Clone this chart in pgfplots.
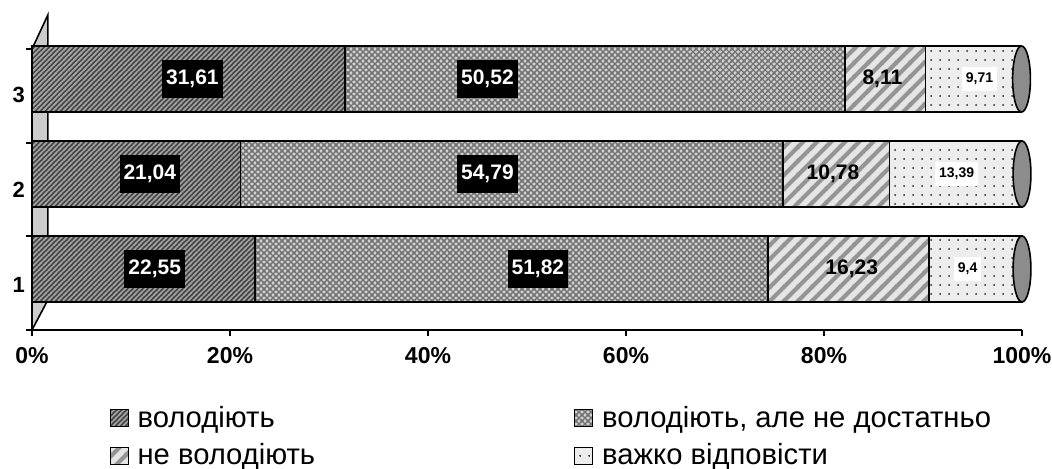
\documentclass[border=0pt]{standalone}
\usepackage{fontspec}
\setmainfont{Liberation Sans}
\usepackage{pgfplots}
\usepackage{pgfplotstable}
\pgfplotsset{compat=1.18}
\usetikzlibrary{patterns}

% fill patterns close to the Excel ones
\pgfdeclarepatternformonly{denselines}{\pgfqpoint{-1pt}{-1pt}}{\pgfqpoint{3.5pt}{3.5pt}}{\pgfqpoint{2.5pt}{2.5pt}}{
  \pgfsetlinewidth{0.7pt}
  \pgfpathmoveto{\pgfqpoint{-1pt}{-1pt}}
  \pgfpathlineto{\pgfqpoint{3.5pt}{3.5pt}}
  \pgfusepath{stroke}
}
\pgfdeclarepatternformonly{widelines}{\pgfqpoint{-1pt}{-1pt}}{\pgfqpoint{8pt}{8pt}}{\pgfqpoint{7pt}{7pt}}{
  \pgfsetlinewidth{2pt}
  \pgfpathmoveto{\pgfqpoint{-1pt}{-1pt}}
  \pgfpathlineto{\pgfqpoint{8pt}{8pt}}
  \pgfusepath{stroke}
}
\pgfdeclarepatternformonly{weave}{\pgfqpoint{-1pt}{-1pt}}{\pgfqpoint{4pt}{4pt}}{\pgfqpoint{3pt}{3pt}}{
  \pgfsetlinewidth{0.55pt}
  \pgfpathmoveto{\pgfqpoint{-1pt}{-1pt}}
  \pgfpathlineto{\pgfqpoint{4pt}{4pt}}
  \pgfpathmoveto{\pgfqpoint{-1pt}{4pt}}
  \pgfpathlineto{\pgfqpoint{4pt}{-1pt}}
  \pgfusepath{stroke}
}
\pgfdeclarepatternformonly{sparsedots}{\pgfqpoint{0pt}{0pt}}{\pgfqpoint{4.5pt}{4.5pt}}{\pgfqpoint{4.5pt}{4.5pt}}{
  \pgfpathcircle{\pgfqpoint{2.25pt}{2.25pt}}{0.55pt}
  \pgfusepath{fill}
}

% y = category, x = share (%), lab = printed label, cx = where the label sits
\pgfplotstableread{
y x lab cx
1 22.55 22,55 12.4
2 21.04 21,04 11.9
3 31.61 31,61 16.2
}\sone
\pgfplotstableread{
y x lab cx
1 51.82 51,82 51.1
2 54.79 54,79 46.0
3 50.52 50,52 46.0
}\stwo
\pgfplotstableread{
y x lab cx
1 16.23 16,23 82.8
2 10.78 10,78 80.9
3 8.11 8,11 85.9
}\sthree
\pgfplotstableread{
y x lab cx
1 9.4 9,4 94.5
2 13.39 13,39 93.4
3 9.71 9,71 95.7
}\sfour
% bar totals, for the cylinder end caps
\pgfplotstableread{
y x
1 100
2 100
3 99.95
}\stotal

\pgfplotsset{
  frame/.style={
    scale only axis,
    width=495pt, height=140.5pt,
    xmin=0, xmax=100, ymin=0.358, ymax=3.316,
    clip=false,
  },
}

\begin{document}
\begin{tikzpicture}
\useasboundingbox (-16pt,-69.5pt) rectangle (510pt,165pt);
% thin 3D side wall, behind everything
\begin{axis}[frame, hide axis]
  \draw[fill=black!20, line width=0.8pt]
    (axis cs:0,0.358) -- (axis cs:1.6,0.674) -- (axis cs:1.6,3.674) -- (axis cs:0,3.316);
\end{axis}

\begin{axis}[
    frame,
    xbar stacked, bar width=33pt,
    axis lines*=left,
    axis line style={-, line width=1pt},
    xtick={0,20,...,100},
    xticklabels={0\%,20\%,40\%,60\%,80\%,100\%},
    ytick={0.358,1.344,2.33,3.316},
    yticklabels={,,,},
    extra y ticks={1,2,3},
    extra y tick labels={1,2,3},
    extra y tick style={major tick length=0pt, yticklabel style={yshift=-8pt}},
    tick align=outside,
    major tick length=3pt,
    tick style={black, line width=1pt},
    xticklabel style={font=\fontsize{11.5}{13}\selectfont\bfseries, yshift=-2pt},
    yticklabel style={font=\fontsize{11}{13}\selectfont\bfseries},
    /pgf/number format/assume math mode=true,
    legend image code/.code={\draw[#1, line width=0.5pt] (0pt,-4.25pt) rectangle (9pt,4.25pt);},
    legend columns=2,
    legend cell align=left,
    legend style={
      at={(0.078,-0.27)}, anchor=north west,
      draw=none, fill=none, inner sep=0pt, row sep=6.5pt,
      nodes={inner ysep=0pt},
      font=\fontsize{14.6}{16}\selectfont,
      /tikz/every odd column/.append style={column sep=2.5pt},
      /tikz/every even column/.append style={column sep=127.5pt}
    },
  ]
  \addplot[draw=black, line width=0.8pt, fill=black!72,
    postaction={pattern=denselines, pattern color=black!35}]
    table[x=x, y=y] {\sone};
  \addlegendentry{володіють}

  \addplot[draw=black, line width=0.8pt, fill=black!18,
    postaction={pattern=weave, pattern color=black!55}]
    table[x=x, y=y] {\stwo};
  \addlegendentry{володіють, але не достатньо}

  \addplot[draw=black, line width=0.8pt, fill=black!10,
    postaction={pattern=widelines, pattern color=black!42}]
    table[x=x, y=y] {\sthree};
  \addlegendentry{не володіють}

  \addplot[draw=black, line width=0.8pt, fill=black!7,
    postaction={pattern=sparsedots, pattern color=black!85}]
    table[x=x, y=y] {\sfour};
  \addlegendentry{важко відповісти}
\end{axis}

% value labels and end caps, on an unstacked copy of the same frame
\begin{axis}[
    frame, hide axis,
    point meta=explicit symbolic,
    every node near coord/.append style={
      anchor=center, inner xsep=2pt, inner ysep=5pt,
      font=\fontsize{10.5}{12}\selectfont\bfseries
    },
  ]
  \addplot[only marks, mark=*, mark size=16.5pt,
    mark options={xscale=0.27, fill=black!45, draw=black, line width=0.8pt}]
    table[x=x, y=y] {\stotal};

  \addplot[only marks, mark=none, nodes near coords,
    every node near coord/.append style={fill=black, text=white}]
    table[x=cx, y=y, meta=lab] {\sone};
  \addplot[only marks, mark=none, nodes near coords,
    every node near coord/.append style={fill=black, text=white}]
    table[x=cx, y=y, meta=lab] {\stwo};
  \addplot[only marks, mark=none, nodes near coords,
    every node near coord/.append style={text=black}]
    table[x=cx, y=y, meta=lab] {\sthree};
  \addplot[only marks, mark=none, nodes near coords,
    every node near coord/.append style={fill=white, text=black, inner xsep=2pt, inner ysep=3pt,
      font=\fontsize{7}{8}\selectfont\bfseries}]
    table[x=cx, y=y, meta=lab] {\sfour};
\end{axis}
\end{tikzpicture}
\end{document}
